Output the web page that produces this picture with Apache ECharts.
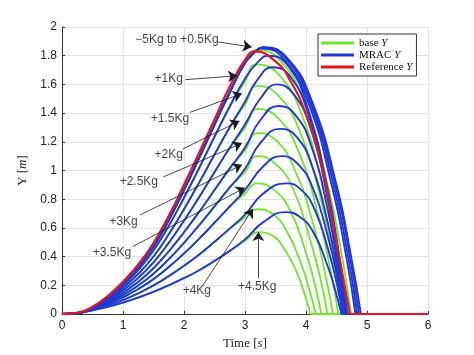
<!DOCTYPE html>
<html><head><meta charset="utf-8">
<script src="https://cdn.jsdelivr.net/npm/echarts@6/dist/echarts.min.js"></script>
<style>html,body{margin:0;padding:0;background:#fff}#c{width:474px;height:355px}</style>
</head><body><div id="c"></div>
<script>
// ---------- data ----------
const massLabels = ['\u22125Kg to +0.5Kg','+1Kg','+1.5Kg','+2Kg','+2.5Kg','+3Kg','+3.5Kg','+4Kg','+4.5Kg'];
const xTicks = [0,1,2,3,4,5,6];
const yTicks = [0,0.2,0.4,0.6,0.8,1,1.2,1.4,1.6,1.8,2];

// common rising phase (time s) for MRAC curves, one row per mass group
const riseTime = [0,0.25,0.5,0.75,1,1.25,1.5,1.75,2,2.25,2.5,2.75,3];
const mracRise = [
  [0,0.007,0.045,0.115,0.210,0.325,0.470,0.655,0.865,1.090,1.320,1.545,1.750],
  [0,0.007,0.043,0.109,0.198,0.306,0.442,0.614,0.810,1.019,1.235,1.446,1.639],
  [0,0.007,0.041,0.101,0.181,0.279,0.401,0.555,0.730,0.917,1.111,1.302,1.479],
  [0,0.007,0.038,0.092,0.165,0.252,0.360,0.496,0.650,0.815,0.988,1.158,1.320],
  [0,0.007,0.035,0.084,0.148,0.224,0.319,0.437,0.570,0.713,0.864,1.015,1.160],
  [0,0.006,0.033,0.076,0.132,0.199,0.281,0.382,0.496,0.619,0.750,0.882,1.012],
  [0,0.006,0.031,0.068,0.116,0.174,0.243,0.327,0.422,0.525,0.636,0.749,0.864],
  [0,0.006,0.028,0.059,0.098,0.144,0.199,0.264,0.336,0.415,0.503,0.595,0.692],
  [0,0.006,0.025,0.050,0.080,0.115,0.155,0.200,0.250,0.305,0.370,0.440,0.520]
];
// MRAC curves after t = 3 s  [time, Y]; the last point is the landing time
const mracTail = [
  [[3.15,1.82],[3.3,1.86],[3.7,1.78],[4.1,1.48],[4.5,0.90],[4.74,0.40],[4.9,0]],
  [[3.2,1.75],[3.38,1.80],[3.705,1.73],[4.03,1.43],[4.355,0.87],[4.55,0.39],[4.68,0]],
  [[3.2,1.63],[3.45,1.72],[3.75,1.65],[4.055,1.37],[4.36,0.83],[4.54,0.37],[4.66,0]],
  [[3.25,1.50],[3.52,1.60],[3.8,1.53],[4.085,1.28],[4.37,0.77],[4.54,0.34],[4.65,0]],
  [[3.25,1.35],[3.55,1.45],[3.82,1.39],[4.095,1.16],[4.37,0.70],[4.53,0.31],[4.64,0]],
  [[3.25,1.19],[3.57,1.29],[3.835,1.24],[4.1,1.03],[4.365,0.62],[4.52,0.28],[4.63,0]],
  [[3.3,1.03],[3.6,1.10],[3.855,1.05],[4.11,0.88],[4.365,0.53],[4.52,0.24],[4.62,0]],
  [[3.3,0.84],[3.68,0.91],[3.91,0.87],[4.14,0.73],[4.37,0.44],[4.51,0.20],[4.6,0]],
  [[3.3,0.64],[3.66,0.71],[3.89,0.68],[4.12,0.57],[4.35,0.34],[4.49,0.15],[4.58,0]]
];
// further MRAC curves inside the -5Kg..+0.5Kg bundle (share the first rising phase)
const bundleTail = [
  [[3.15,1.82],[3.29,1.858],[3.69,1.78],[4.08,1.48],[4.48,0.90],[4.72,0.40],[4.87,0]],
  [[3.15,1.82],[3.28,1.855],[3.67,1.78],[4.06,1.48],[4.45,0.90],[4.69,0.40],[4.84,0]],
  [[3.15,1.82],[3.27,1.85],[3.65,1.77],[4.04,1.47],[4.42,0.90],[4.66,0.40],[4.81,0]]
];
// base curves follow the MRAC rise up to t = 2.75 s, then:
const baseTail = [
  [[3.0,1.745],[3.2,1.84],[3.59,1.76],[3.97,1.47],[4.36,0.89],[4.59,0.40],[4.74,0]],
  [[3.0,1.62],[3.18,1.74],[3.55,1.67],[3.93,1.39],[4.3,0.84],[4.52,0.37],[4.67,0]],
  [[3.0,1.46],[3.2,1.59],[3.55,1.52],[3.9,1.27],[4.26,0.77],[4.47,0.34],[4.61,0]],
  [[3.0,1.30],[3.2,1.43],[3.53,1.37],[3.87,1.14],[4.2,0.69],[4.4,0.31],[4.53,0]],
  [[3.0,1.14],[3.2,1.26],[3.51,1.21],[3.82,1.00],[4.13,0.61],[4.32,0.27],[4.44,0]],
  [[3.0,0.99],[3.2,1.10],[3.49,1.05],[3.78,0.88],[4.06,0.53],[4.24,0.24],[4.35,0]],
  [[3.0,0.84],[3.2,0.91],[3.46,0.87],[3.73,0.73],[3.99,0.44],[4.15,0.20],[4.25,0]],
  [[3.0,0.67],[3.2,0.73],[3.44,0.70],[3.68,0.58],[3.92,0.35],[4.06,0.16],[4.16,0]],
  [[3.0,0.51],[3.22,0.57],[3.43,0.55],[3.65,0.45],[3.86,0.28],[3.99,0.12],[4.07,0]]
];
const refTime  = [0,0.25,0.5,0.75,1,1.25,1.5,1.75,2,2.25,2.5,2.75,3,3.16,3.5,3.75,4,4.25,4.5,4.72];
const refValue = [0,0.008,0.05,0.125,0.225,0.345,0.495,0.685,0.90,1.125,1.355,1.585,1.77,1.83,1.76,1.62,1.39,1.04,0.50,0];
const endTime = 6; // every trajectory stays on the ground (Y = 0) until the end of the run

// annotations (data coordinates)
const labelAt   = [[1.885,1.91],[1.75,1.64],[1.77,1.36],[1.75,1.11],[1.26,0.92],[1.01,0.645],[0.82,0.43],[2.21,0.16],[3.2,0.187]];
const arrowFrom = [[2.56,1.896],[2.02,1.633],[2.1,1.405],[1.98,1.15],[1.66,0.955],[1.28,0.69],[1.16,0.47],[2.31,0.20],[3.22,0.25]];
const arrowTo   = [[3.11,1.86],[2.87,1.66],[2.95,1.536],[2.91,1.345],[2.95,1.19],[2.95,1.04],[3.0,0.88],[3.13,0.733],[3.22,0.572]];

// ---------- chart ----------
const BLUE = '#2238d6', GREEN = '#72e42a', RED = '#e8141e';
const riseOf = (k, n) => riseTime.slice(0, n).map((t, i) => [t, mracRise[k][i]]);
const series = [];
// flight part (smoothed) and ground part (straight) of each trajectory
function addCurve(name, color, width, pts) {
  const land = pts[pts.length - 1][0];
  series.push({
    name: name, type: 'line', showSymbol: false, smooth: 0.5,
    data: pts, lineStyle: {color: color, width: width}, itemStyle: {color: color}
  });
  series.push({
    name: name, type: 'line', showSymbol: false,
    data: [[land, 0], [endTime, 0]], lineStyle: {color: color, width: width}, itemStyle: {color: color}
  });
}
baseTail.forEach((tail, k) => addCurve('base Y', GREEN, 1.8, riseOf(k, 12).concat(tail)));
bundleTail.forEach(tail => addCurve('MRAC Y', BLUE, 1.9, riseOf(0, 13).concat(tail)));
mracTail.forEach((tail, k) => addCurve('MRAC Y', BLUE, 1.9, riseOf(k, 13).concat(tail)));
addCurve('Reference Y', RED, 2.2, refTime.map((t, i) => [t, refValue[i]]));

series.push({
  type: 'lines', coordinateSystem: 'cartesian2d', silent: true, z: 5,
  symbol: ['none', 'arrow'], symbolSize: 9,
  lineStyle: {color: '#1a1a1a', width: 0.8, opacity: 1},
  data: arrowFrom.map((p, i) => ({coords: [p, arrowTo[i]]}))
});
series.push({
  type: 'scatter', symbolSize: 0, silent: true, z: 6,
  data: labelAt.map((p, i) => ({value: p, name: massLabels[i]})),
  label: {show: true, position: 'inside', formatter: '{b}', color: '#111', fontSize: 12, fontFamily: 'Liberation Sans'}
});

const serif = 'Liberation Serif';
const chart = echarts.init(document.getElementById('c'), null, {renderer: 'canvas'});
chart.setOption({
  animation: false,
  backgroundColor: '#fff',
  grid: {left: 62, right: 46, top: 27, bottom: 39},
  legend: {
    data: ['base Y', 'MRAC Y', 'Reference Y'], orient: 'vertical', left: 318, top: 34,
    icon: 'rect', itemWidth: 33, itemHeight: 3, itemGap: 0, padding: [3, 4, 3, 3],
    backgroundColor: '#fff', borderColor: '#333', borderWidth: 1, borderRadius: 0,
    formatter: n => { const i = n.lastIndexOf(' '); return '{n|' + n.slice(0, i + 1) + '}{i|' + n.slice(i + 1) + '}'; },
    textStyle: {lineHeight: 12, rich: {
      n: {fontFamily: serif, fontSize: 11, color: '#111', lineHeight: 12},
      i: {fontFamily: serif, fontSize: 11, fontStyle: 'italic', color: '#111', lineHeight: 12}
    }}
  },
  xAxis: {
    type: 'value', min: xTicks[0], max: xTicks[xTicks.length - 1], interval: xTicks[1] - xTicks[0],
    name: '{n|Time [}{i|s}{n|]}', nameLocation: 'middle', nameGap: 23,
    nameTextStyle: {rich: {
      n: {fontFamily: serif, fontSize: 13, color: '#222'},
      i: {fontFamily: serif, fontSize: 13, fontStyle: 'italic', color: '#222'}
    }},
    axisLine: {show: true, lineStyle: {color: '#333', width: 1}},
    axisTick: {show: true, inside: true, length: 3, lineStyle: {color: '#333'}},
    axisLabel: {margin: 6, color: '#222', fontSize: 12, fontFamily: 'Liberation Sans'},
    splitLine: {show: true, lineStyle: {color: '#e3e3e3', width: 1}}
  },
  yAxis: {
    type: 'value', min: yTicks[0], max: yTicks[yTicks.length - 1], interval: 0.2,
    name: '{n|Y [}{i|m}{n|]}', nameLocation: 'middle', nameGap: 26,
    nameTextStyle: {rich: {
      n: {fontFamily: serif, fontSize: 13, color: '#222'},
      i: {fontFamily: serif, fontSize: 13, fontStyle: 'italic', color: '#222'}
    }},
    axisLine: {show: true, lineStyle: {color: '#333', width: 1}},
    axisTick: {show: true, inside: true, length: 3, lineStyle: {color: '#333'}},
    axisLabel: {margin: 5, color: '#222', fontSize: 12, fontFamily: 'Liberation Sans'},
    splitLine: {show: true, lineStyle: {color: '#e3e3e3', width: 1}}
  },
  series: series
});
</script></body></html>
